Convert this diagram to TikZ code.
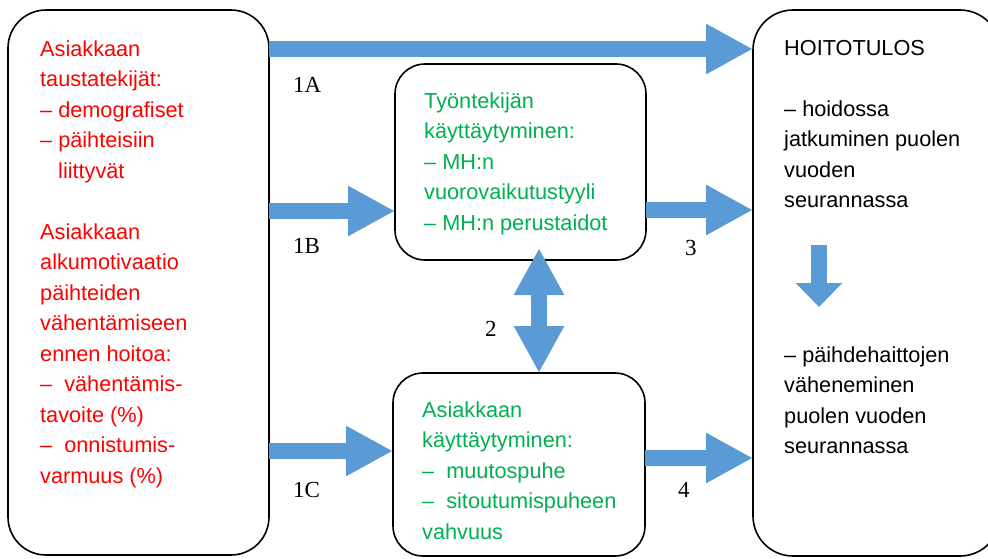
\documentclass[tikz,border=0pt]{standalone}
\usepackage{fontspec}
\setmainfont{Liberation Sans}
\newfontfamily\numfont{Liberation Serif}
\usetikzlibrary{arrows.meta}
\definecolor{arrowblue}{HTML}{5B9BD5}
\definecolor{txtgreen}{HTML}{00B050}
% fixed height for the first line of every text block
\newcommand{\firstln}{\rule{0pt}{20pt}}

\begin{document}
\begin{tikzpicture}[x=1pt,y=-1pt]
      \tikzstyle{bx} = [draw=black, line width=1.6pt, inner sep=0pt, outer sep=0pt]
      \tikzstyle{txt} = [anchor=north west, inner sep=0pt, align=left, font=\fontsize{21.7pt}{30.5pt}\selectfont]
      \tikzstyle{num} = [anchor=base west, inner sep=0pt, font=\numfont\fontsize{23pt}{26pt}\selectfont]
      \tikzstyle{barrow} = [arrowblue, line width=16pt, -{Triangle[length=47pt,width=47pt]}]
      \tikzstyle{darrow} = [arrowblue, line width=16pt, {Triangle[length=47pt,width=47pt]}-{Triangle[length=47pt,width=47pt]}]
      \tikzstyle{sarrow} = [arrowblue, line width=16pt, -{Triangle[length=24pt,width=45pt]}]
      \useasboundingbox (0,0) rectangle (988,558);

      % boxes
      \node[bx, rounded corners=38pt, minimum width=261pt, minimum height=545pt] (lbox) at (138.5,282.5) {};
      \node[bx, rounded corners=30pt, minimum width=251pt, minimum height=196pt] (tbox) at (520.5,162) {};
      \node[bx, rounded corners=30pt, minimum width=252pt, minimum height=183pt] (bbox) at (519,464.5) {};
      \node[bx, rounded corners=40pt, minimum width=247pt, minimum height=546pt] (rbox) at (876.5,283) {};

      % texts: y = first baseline - 20
      \node[txt, text=red] (ltxt) at (40,36) {\firstln Asiakkaan\\ taustatekijät:\\ – demografiset\\ – päihteisiin\\ \hspace*{18pt}liittyvät\\[30.5pt]
        Asiakkaan\\ alkumotivaatio\\ päihteiden\\ vähentämiseen\\ ennen hoitoa:\\ –\ \ vähentämis-\\ tavoite (\%)\\ –\ \ onnistumis-\\ varmuus (\%)};
      \node[txt, text=txtgreen] (ttxt) at (424,88) {\firstln Työntekijän\\ käyttäytyminen:\\ – MH:n\\ vuorovaikutustyyli\\ – MH:n perustaidot};
      \node[txt, text=txtgreen] (btxt) at (422,397) {\firstln Asiakkaan\\ käyttäytyminen:\\ –\ \ muutospuhe\\ –\ \ sitoutumispuheen\\ vahvuus};
      \node[txt] (out1) at (784,35) {\firstln HOITOTULOS\\[30.5pt] – hoidossa\\ jatkuminen puolen\\ vuoden\\ seurannassa};
      \node[txt] (out2) at (784,342) {\firstln – päihdehaittojen\\ väheneminen\\ puolen vuoden\\ seurannassa};

      \coordinate (up2) at (539,248);
      \coordinate (d1) at (819,245);
      \coordinate (d2) at (819,307);

      \draw[barrow] (lbox.east |- 0,49) to (rbox.west |- 0,49);
      \draw[barrow] (lbox.east |- 0,211) to (tbox.west |- 0,211);
      \draw[barrow] (lbox.east |- 0,451) to (bbox.west |- 0,451);
      \draw[barrow] (tbox.east |- 0,210) to (rbox.west |- 0,210);
      \draw[barrow] (bbox.east |- 0,458) to (rbox.west |- 0,458);
      \draw[darrow] (up2) to (bbox.north -| up2);
      \draw[sarrow] (d1) to (d2);

      \node[num] (l1a) at (293,92) {1A};
      \node[num] (l1b) at (293,253) {1B};
      \node[num] (l1c) at (293,497) {1C};
      \node[num] (l2) at (485,336) {2};
      \node[num] (l3) at (685,255) {3};
      \node[num] (l4) at (678,497) {4};
\end{tikzpicture}
\end{document}
